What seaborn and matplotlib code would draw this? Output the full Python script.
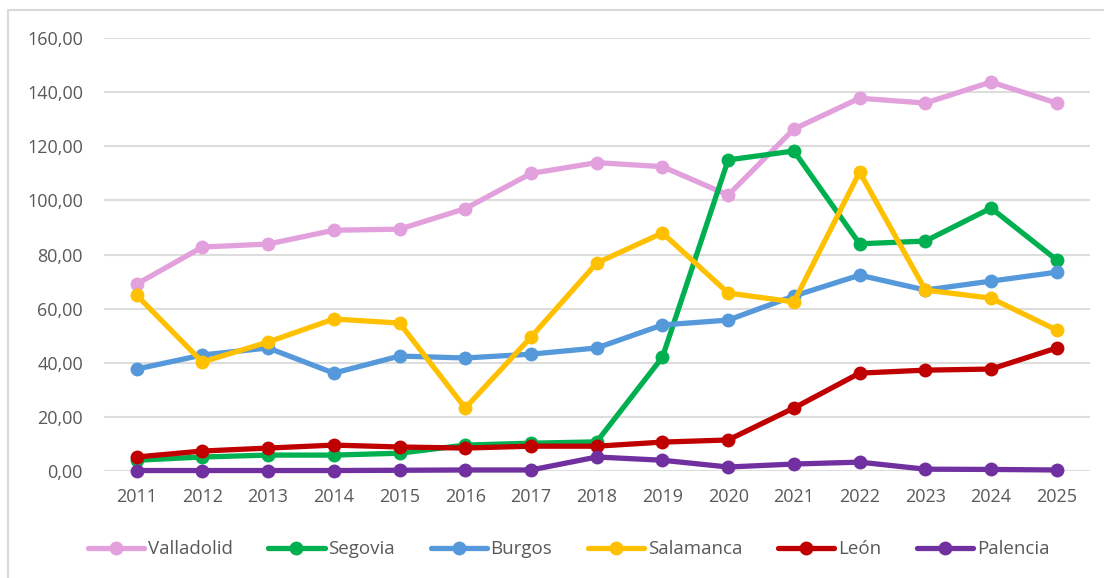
import pandas as pd
import seaborn as sns
import matplotlib.pyplot as plt
from matplotlib.patches import Rectangle
from matplotlib.ticker import FuncFormatter

# Values
years = list(range(2011, 2026))
valladolid = [69.1, 82.8, 83.9, 89.0, 89.4, 97.0, 110.0, 114.0, 112.5, 102.0, 126.4, 137.8, 136.0, 143.8, 136.0]
segovia = [4.0, 5.2, 5.9, 5.9, 6.6, 9.6, 10.3, 10.8, 42.1, 115.0, 118.3, 84.0, 85.0, 97.2, 78.0]
burgos = [37.7, 42.9, 45.5, 36.2, 42.5, 41.8, 43.2, 45.5, 54.0, 55.8, 64.7, 72.4, 66.9, 70.2, 73.5]
salamanca = [65.0, 40.3, 47.7, 56.2, 54.7, 23.3, 49.5, 76.9, 88.0, 65.8, 62.5, 110.5, 66.9, 63.9, 52.1]
leon = [5.2, 7.4, 8.5, 9.6, 8.9, 8.5, 9.2, 9.2, 10.7, 11.5, 23.3, 36.2, 37.3, 37.7, 45.5]
palencia = [0.2, 0.2, 0.2, 0.2, 0.3, 0.4, 0.4, 5.2, 4.0, 1.5, 2.6, 3.3, 0.7, 0.6, 0.4]

series = ['Valladolid', 'Segovia', 'Burgos', 'Salamanca', 'León', 'Palencia']
colors = ['#E2A0DC', '#00B050', '#5599DB', '#FFC000', '#C00000', '#7030A0']

data = pd.DataFrame({'year': years, 'Valladolid': valladolid, 'Segovia': segovia,
                     'Burgos': burgos, 'Salamanca': salamanca, 'León': leon,
                     'Palencia': palencia})
long = data.melt(id_vars='year', var_name='provincia', value_name='valor')

sns.set_style('white')
plt.rcParams['font.family'] = ['Open Sans', 'DejaVu Sans']

fig = plt.figure(figsize=(11.04, 5.78), dpi=100)
ax = fig.add_axes([0.094, 0.185, 0.893, 0.749])

sns.lineplot(data=long, x='year', y='valor', hue='provincia', hue_order=series,
             palette=colors, marker='o', markersize=10, markeredgewidth=0,
             linewidth=3.8, ax=ax, legend=False, clip_on=False)

ax.set_xlim(2010.5, 2025.5)
ax.set_ylim(0, 160)
ax.set_yticks(range(0, 161, 20))
ax.set_xticks(years)
ax.yaxis.set_major_formatter(FuncFormatter(lambda v, p: f'{v:.2f}'.replace('.', ',')))
ax.grid(axis='y', color='#DDDDDD', linewidth=1.5)
ax.set_axisbelow(True)
for s in ax.spines.values():
    s.set_visible(False)
ax.tick_params(axis='both', length=0, labelsize=13, labelcolor='#595959')
ax.tick_params(axis='y', pad=15)
ax.tick_params(axis='x', pad=12)
ax.set_xlabel('')
ax.set_ylabel('')

# legend
handles = [plt.Line2D([], [], color=c, linewidth=3.8, marker='o', markersize=10,
                      markeredgewidth=0) for c in colors]
fig.legend(handles, series, loc='center', bbox_to_anchor=(0.515, 0.05), ncol=6,
           frameon=False, fontsize=13.5, labelcolor='#595959', handlelength=3.0,
           handletextpad=0.2, columnspacing=1.9)

# outer chart border
fig.add_artist(Rectangle((8 / 1104, -0.1), 1.2, 1 - 10 / 578 + 0.1,
                         transform=fig.transFigure, fill=False,
                         edgecolor='#D9D9D9', linewidth=1.5))

fig.savefig('out.png', dpi=100)
